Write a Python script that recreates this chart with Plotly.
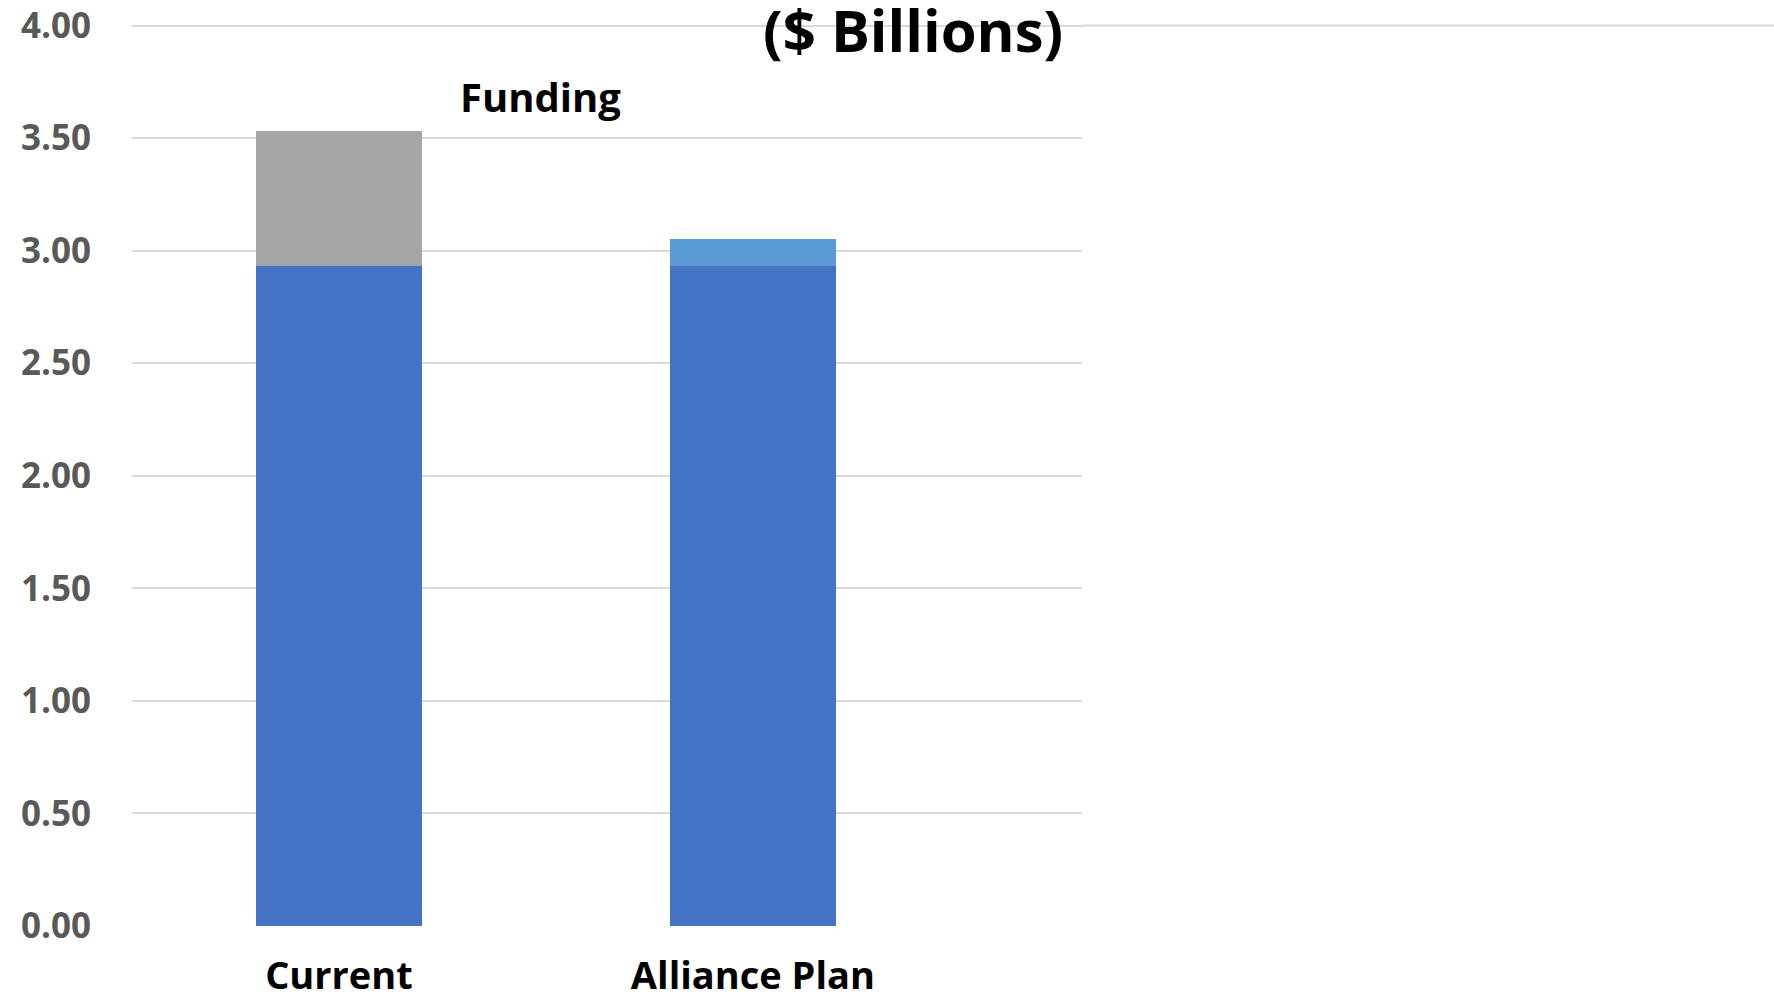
import plotly.graph_objects as go

# Funding by scenario, $ billions
categories = ["Current", "Alliance Plan"]
base_funding = [2.93, 2.93]
current_extra = [0.60, 0]
plan_extra = [0, 0.12]
y_ticks = [0, 0.5, 1.0, 1.5, 2.0, 2.5, 3.0, 3.5, 4.0]
y_tick_text = [f"{v:.2f}" for v in y_ticks]

FONT = "Open Sans"

fig = go.Figure()
fig.add_trace(go.Bar(x=categories, y=base_funding, name="Base",
                     marker=dict(color="#4472C4", line=dict(width=0)), width=0.40))
fig.add_trace(go.Bar(x=categories, y=current_extra, name="Current add-on",
                     marker=dict(color="#A5A5A5", line=dict(width=0)), width=0.40))
fig.add_trace(go.Bar(x=categories, y=plan_extra, name="Plan add-on",
                     marker=dict(color="#5B9BD5", line=dict(width=0)), width=0.40))

fig.update_layout(
    barmode="stack",
    width=1774, height=1004,
    margin=dict(l=132, r=692, t=20.5, b=77.5),
    paper_bgcolor="white", plot_bgcolor="white",
    showlegend=False,
    font=dict(family=FONT),
    xaxis=dict(
        type="category", range=[-0.5, 1.795], automargin=False,
        showgrid=False, zeroline=False, showline=False, ticks="",
        tickfont=dict(family=FONT, size=38, color="black", weight="bold"),
        ticklabelstandoff=24, ticklabeloverflow="allow",
    ),
    yaxis=dict(
        range=[0, 4.02], tickvals=y_ticks, ticktext=y_tick_text, automargin=False,
        showgrid=True, gridcolor="#D9D9D9", gridwidth=2,
        zeroline=False, showline=False, ticks="",
        tickfont=dict(family=FONT, size=35, color="#595959", weight="bold"),
        ticklabelstandoff=40, ticklabeloverflow="allow",
    ),
    shapes=[
        # top gridline continues across the right side of the page
        dict(type="line", xref="paper", yref="y", x0=1, x1=1.73, y0=4, y1=4,
             line=dict(color="#D9D9D9", width=2), layer="below"),
    ],
    annotations=[
        dict(text="($ Billions)", xref="paper", yref="paper", x=0.822, y=1.0366,
             xanchor="center", yanchor="top", showarrow=False,
             font=dict(family=FONT, size=58, color="black", weight="bold")),
        dict(text="Funding", xref="paper", yref="paper", x=0.4295, y=0.9163,
             xanchor="center", yanchor="middle", showarrow=False,
             font=dict(family=FONT, size=40, color="black", weight="bold")),
    ],
)

fig.write_html("out.html")
